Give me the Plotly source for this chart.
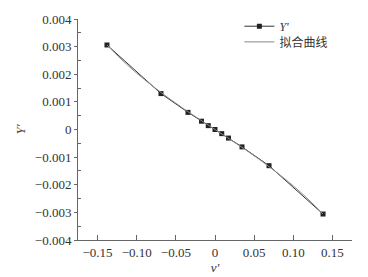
import plotly.graph_objects as go

# measured data (Y' vs v')
v_data = [-0.138, -0.069, -0.0345, -0.0172, -0.0086, 0.0, 0.0086, 0.0172, 0.0345, 0.069, 0.138]
y_data = [0.00306, 0.00130, 0.00062, 0.00030, 0.00014, 0.0, -0.00015, -0.00031, -0.00063, -0.00131, -0.00306]

# fitted curve
v_fit = [-0.138, -0.12, -0.10, -0.08, -0.06, -0.04, -0.02, 0.0, 0.02, 0.04, 0.06, 0.08, 0.10, 0.12, 0.138]
y_fit = [0.00306, 0.00255, 0.00204, 0.00158, 0.00115, 0.00075, 0.00037, 0.0,
         -0.00037, -0.00075, -0.00115, -0.00158, -0.00204, -0.00255, -0.00306]

x_tickvals = [-0.15, -0.10, -0.05, 0, 0.05, 0.10, 0.15]
x_ticktext = ["−0.15", "−0.10", "−0.05", "0", "0.05", "0.10", "0.15"]
y_tickvals = [-0.004, -0.003, -0.002, -0.001, 0, 0.001, 0.002, 0.003, 0.004]
y_ticktext = ["−0.004", "−0.003", "−0.002", "−0.001", "0", "0.001", "0.002", "0.003", "0.004"]

serif = "Liberation Serif, Times New Roman, serif"
axis_color = "#666666"
text_color = "#333333"
legend_font = dict(family="Liberation Serif, Noto Sans CJK SC, serif", size=12, color=text_color)

fig = go.Figure()
fig.add_trace(go.Scatter(
    x=v_data, y=y_data, mode="lines+markers", name="<i>Y'</i>", legend="legend",
    line=dict(color="#333333", width=1),
    marker=dict(symbol="square", size=5, color="#222222"),
))
fig.add_trace(go.Scatter(
    x=v_fit, y=y_fit, mode="lines", name="拟合曲线", line_shape="spline", legend="legend2",
    line=dict(color="#888888", width=1),
))

fig.update_layout(
    width=368, height=277,
    margin=dict(l=78, r=16, t=16, b=37),
    paper_bgcolor="white", plot_bgcolor="white",
    font=dict(family=serif, size=13, color=text_color),
    showlegend=True,
    legend=dict(x=0.589, y=1.033, xanchor="left", yanchor="top",
                bgcolor="rgba(0,0,0,0)", itemwidth=30, font=legend_font),
    legend2=dict(x=0.589, y=0.962, xanchor="left", yanchor="top",
                 bgcolor="rgba(0,0,0,0)", itemwidth=30, font=legend_font),
)
fig.update_xaxes(
    range=[-0.175, 0.175], tickvals=x_tickvals, ticktext=x_ticktext, automargin=False,
    showgrid=False, zeroline=False, showline=True, linecolor=axis_color, linewidth=1,
    ticks="inside", ticklen=5, tickcolor=axis_color,
    title=dict(text="<i>v'</i>", standoff=0, font=dict(family=serif, size=13)),
)
fig.update_yaxes(
    range=[-0.004, 0.004], tickvals=y_tickvals, ticktext=y_ticktext, automargin=False,
    showgrid=False, zeroline=False, showline=True, linecolor=axis_color, linewidth=1,
    ticks="outside", ticklen=3, tickcolor=axis_color,
    minor=dict(tickvals=[-0.0035, -0.0025, -0.0015, -0.0005, 0.0005, 0.0015, 0.0025, 0.0035],
               ticks="inside", ticklen=3, tickcolor=axis_color),
    title=dict(text="<i>Y'</i>", standoff=6, font=dict(family=serif, size=13)),
)

fig.write_html("out.html", config={"displayModeBar": False},
               post_script="document.body.style.margin='0';document.body.style.padding='0';")
